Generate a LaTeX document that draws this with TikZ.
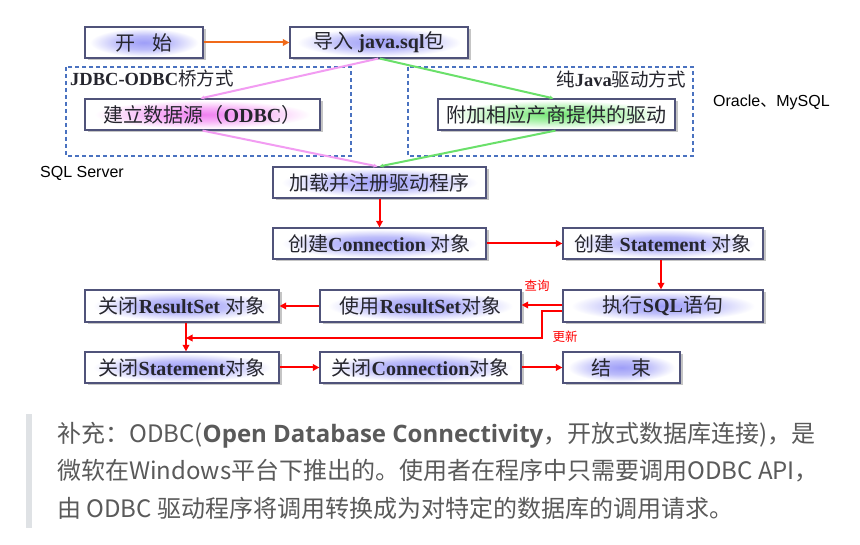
\documentclass[tikz,border=0pt]{standalone}
\usepackage{fontspec}
\setmainfont{Liberation Serif}
\newfontfamily\cjk{Noto Sans CJK SC}
\newfontfamily\arl{Liberation Sans}
\newfontfamily\osb{Open Sans}
\usetikzlibrary{arrows.meta,shadows,calc}
\definecolor{bordc}{HTML}{50537A}
\definecolor{txtc}{HTML}{26262E}
\definecolor{dashc}{HTML}{4A72C0}
\definecolor{pinkc}{HTML}{F29CF2}
\definecolor{greenc}{HTML}{6AE06A}
\definecolor{orangec}{HTML}{F06A1A}
\definecolor{redc}{HTML}{FF0000}
\definecolor{notec}{HTML}{5A5A5A}
\definecolor{barc}{HTML}{DFE2E5}
\pgfdeclareradialshading{glowblue}{\pgfpoint{0bp}{0bp}}{rgb(0bp)=(0.62,0.62,0.97); rgb(11bp)=(0.74,0.74,0.98); rgb(23bp)=(1,1,1); rgb(50bp)=(1,1,1)}
\pgfdeclareradialshading{glowpink}{\pgfpoint{0bp}{0bp}}{rgb(0bp)=(0.94,0.50,0.94); rgb(11bp)=(0.97,0.70,0.97); rgb(23bp)=(1,1,1); rgb(50bp)=(1,1,1)}
\pgfdeclareradialshading{glowgreen}{\pgfpoint{0bp}{0bp}}{rgb(0bp)=(0.45,0.90,0.45); rgb(11bp)=(0.68,0.95,0.68); rgb(23bp)=(1,1,1); rgb(50bp)=(1,1,1)}
\newcommand\zh[1]{{\cjk #1}}
\newcommand\en[1]{{\bfseries #1}}
\tikzset{
  box/.style={draw=bordc, line width=1.2pt, shade, shading=glowblue,
    minimum height=31pt, inner sep=0pt, text=txtc,
    font=\fontsize{20}{20}\selectfont,
    drop shadow={shadow xshift=2.5pt, shadow yshift=-2.5pt, fill=black!45, opacity=0.5}},
  dashbox/.style={draw=dashc, line width=1.4pt, dash pattern=on 4pt off 3pt},
  grouplabel/.style={text=txtc, inner sep=0pt, font=\fontsize{18.5}{18.5}\selectfont},
  redarr/.style={draw=redc, line width=2pt, -{Triangle[length=6.5pt,width=6.5pt]}},
  pinkline/.style={draw=pinkc, line width=2pt, -{Stealth[length=4pt,width=4pt]}},
  greenline/.style={draw=greenc, line width=2pt, -{Stealth[length=4pt,width=4pt]}},
  dbnote/.style={inner sep=0pt, font=\arl\fontsize{16}{16}\selectfont, text=black},
  rednote/.style={inner sep=0pt, font=\cjk\fontsize{12.5}{12.5}\selectfont, text=redc},
  noteline/.style={inner sep=0pt, anchor=west, text=notec, font=\fontsize{24}{24}\selectfont},
}
\begin{document}
\begin{tikzpicture}[x=1pt,y=-1pt]
\useasboundingbox[fill=white] (0,0) rectangle (860,545);
% dashed group frames
\draw[dashbox] (66,67) rectangle (351,156);
\draw[dashbox] (408,67) rectangle (693,156);
\node[grouplabel, anchor=west] (lbl1) at (70,78) {\en{JDBC-ODBC}\zh{桥方式}};
\node[grouplabel, anchor=east] (lbl2) at (686,79) {\zh{纯}\en{Java}\zh{驱动方式}};
% boxes
\node[box, minimum width=118pt] (start) at (144,42.5) {\zh{开\hspace{17pt}始}};
\node[box, minimum width=178pt] (import) at (379,42.5) {\zh{导入} \en{java.sql}\zh{包}};
\node[box, minimum width=235pt, shading=glowpink] (odbc) at (202.5,114.5) {\zh{建立数据源（}\en{ODBC}\zh{）}};
\node[box, minimum width=237pt, shading=glowgreen] (vendor) at (556.5,114.5) {\zh{附加相应产商提供的驱动}};
\node[box, minimum width=213pt] (load) at (379.5,182.5) {\zh{加载并注册驱动程序}};
\node[box, minimum width=213pt] (conn) at (379.5,243.5) {\zh{创建}\en{Connection} \zh{对象}};
\node[box, minimum width=200pt] (stmt) at (663,243.5) {\zh{创建} \en{Statement} \zh{对象}};
\node[box, minimum width=200pt, minimum height=32pt] (exec) at (663,306) {\zh{执行}\en{SQL}\zh{语句}};
\node[box, minimum width=201pt, minimum height=32pt] (use) at (420.5,306) {\zh{使用}\en{ResultSet}\zh{对象}};
\node[box, minimum width=194pt, minimum height=32pt] (closers) at (182,306) {\zh{关闭}\en{ResultSet} \zh{对象}};
\node[box, minimum width=194pt] (closest) at (182,367.5) {\zh{关闭}\en{Statement}\zh{对象}};
\node[box, minimum width=201pt] (closecon) at (420.5,367.5) {\zh{关闭}\en{Connection}\zh{对象}};
\node[box, minimum width=117pt] (finish) at (621.5,367.5) {\zh{结\hspace{20pt}束}};
% side notes
\node[dbnote, anchor=west] (ora) at (713,102) {Oracle\zh{、}MySQL};
\node[dbnote, anchor=west] (sqls) at (40,173) {SQL Server};
\node[rednote] (query) at (537,286) {查询};
\node[rednote] (update) at (565,337) {更新};
% connectors
\draw[draw=orangec, line width=2pt, -{Triangle[length=6.5pt,width=6.5pt]}] (start.east) -- (import.west);
\draw[pinkline] ([xshift=-1pt]import.south) -- ([xshift=-2pt]odbc.north);
\draw[pinkline] (odbc.south) -- ([xshift=-2pt]load.north);
\draw[greenline] ([xshift=1pt]import.south) -- ([xshift=-3pt]vendor.north);
\draw[greenline] ([xshift=-1pt]vendor.south) -- (load.north);
\draw[redarr] (load.south) -- (conn.north);
\draw[redarr] (conn.east) -- (stmt.west);
\draw[redarr] ([xshift=-2pt]stmt.south) -- ([xshift=-2pt]exec.north);
\draw[redarr] ([yshift=1pt]exec.west) -- ([yshift=1pt]use.east);
\draw[redarr] (use.west) -- (closers.east);
\coordinate (u) at (186,338);
\draw[redarr] (closers.south -| u) -- (closest.north -| u);
\draw[redarr] ([yshift=-5pt]exec.west) -- ++(-20,0) -- ++(0,27) -- (u);
\draw[redarr] (closest.east) -- (closecon.west);
\draw[redarr] (closecon.east) -- (finish.west);
% bottom note
\fill[barc] (26,414) rectangle (32,528);
\node[noteline] (n1) at (57,435) {\zh{补充：ODBC(}{\osb\bfseries Open Database Connectivity}\zh{，开放式数据库连接)，是}};
\node[noteline] (n2) at (57,471) {\zh{微软在Windows平台下推出的。使用者在程序中只需要调用ODBC API，}};
\node[noteline] (n3) at (57,508) {\zh{由 ODBC 驱动程序将调用转换成为对特定的数据库的调用请求。}};
\end{tikzpicture}
\end{document}
